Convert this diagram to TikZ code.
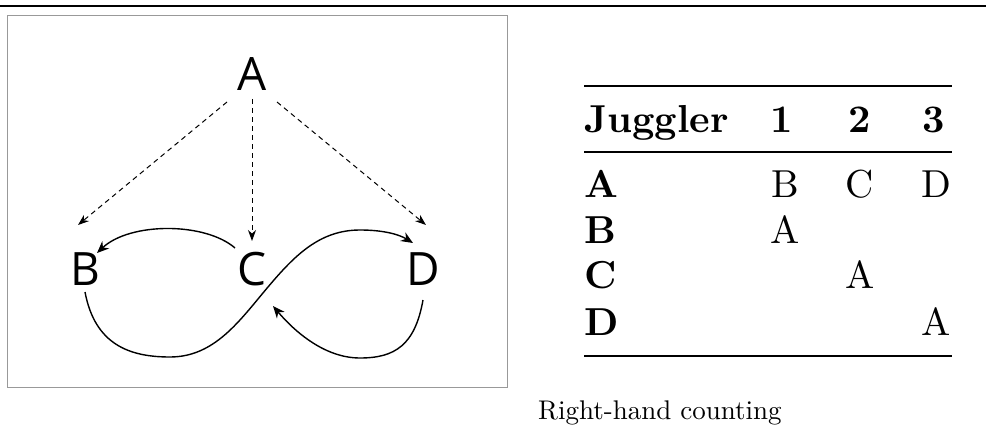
\documentclass[tikz,border=0pt]{standalone}
\usepackage{fontspec}
\setmainfont{lmroman10-regular}[Extension=.otf,BoldFont=lmroman10-bold]
\newfontfamily\diagfont{Open Sans}
\usetikzlibrary{arrows.meta}
\begin{document}
\begin{tikzpicture}[x=1pt,y=-1pt,
  letter/.style={font=\diagfont\fontsize{46}{50}\selectfont,inner sep=0pt,anchor=base},
  cell/.style={font=\fontsize{39}{46}\selectfont,inner sep=0pt,anchor=base},
  dasharrow/.style={line width=1pt,dash pattern=on 5pt off 4pt,-{Stealth[length=11pt,width=8pt]}},
  curvearrow/.style={line width=1.4pt,-{Stealth[length=12pt,width=10pt]}}]
\useasboundingbox (0,0) rectangle (986,428);
% top rule
\draw[line width=2.6pt] (0,6) -- (986,6);
% frame
\draw[gray!80,line width=1pt] (7,16) rectangle (507,387);
% letters
\node[letter] (A) at (252,91) {A};
\node[letter] (B) at (85,285) {B};
\node[letter] (C) at (252,285) {C};
\node[letter] (D) at (423,285) {D};
% connector ends
\coordinate (a1) at (227,102); \coordinate (b1) at (78,225);
\coordinate (a2) at (252,99);  \coordinate (c1) at (252,241);
\coordinate (a3) at (277,102); \coordinate (d1) at (426,225);
\draw[dasharrow] (a1) -- (b1);
\draw[dasharrow] (a2) -- (c1);
\draw[dasharrow] (a3) -- (d1);
% C -> B
\coordinate (c2) at (235,248); \coordinate (b2) at (97,253);
\draw[curvearrow] (c2) .. controls (205,222) and (130,222) .. (b2);
% B -> (through C) -> D
\coordinate (b3) at (85,292); \coordinate (d2) at (413,243);
\draw[curvearrow] (b3) .. controls (95,345) and (130,357) .. (170,357)
  .. controls (215,357) and (240,320) .. (268,287)
  .. controls (295,255) and (320,230) .. (360,230)
  .. controls (385,230) and (400,235) .. (d2);
% D -> C
\coordinate (d3) at (423,300); \coordinate (c3) at (273,306);
\draw[curvearrow] (d3) .. controls (415,345) and (395,358) .. (360,358)
  .. controls (325,358) and (295,332) .. (c3);
% table
\draw[line width=2.8pt] (584,86) -- (952,86);
\draw[line width=1.4pt] (584,152) -- (952,152);
\draw[line width=2.8pt] (584,356) -- (952,356);
\node[cell,anchor=base west] (hj) at (584,132) {\bfseries Juggler};
\node[cell] (h1) at (782,132) {\bfseries 1};
\node[cell] (h2) at (860,132) {\bfseries 2};
\node[cell] (h3) at (934,132) {\bfseries 3};
\node[cell,anchor=base west] (rA) at (584,197) {\bfseries A};
\node[cell,anchor=base west] (rB) at (584,243) {\bfseries B};
\node[cell,anchor=base west] (rC) at (584,288) {\bfseries C};
\node[cell,anchor=base west] (rD) at (584,335) {\bfseries D};
\node[cell] (aB) at (785,197) {B};
\node[cell] (aC) at (860,197) {C};
\node[cell] (aD) at (936,197) {D};
\node[cell] (bA) at (785,243) {A};
\node[cell] (cA) at (860,288) {A};
\node[cell] (dA) at (936,335) {A};
% caption
\node[font=\fontsize{27}{32}\selectfont,inner sep=0pt,anchor=base west] (cap) at (538,419) {Right-hand counting};
\end{tikzpicture}
\end{document}
